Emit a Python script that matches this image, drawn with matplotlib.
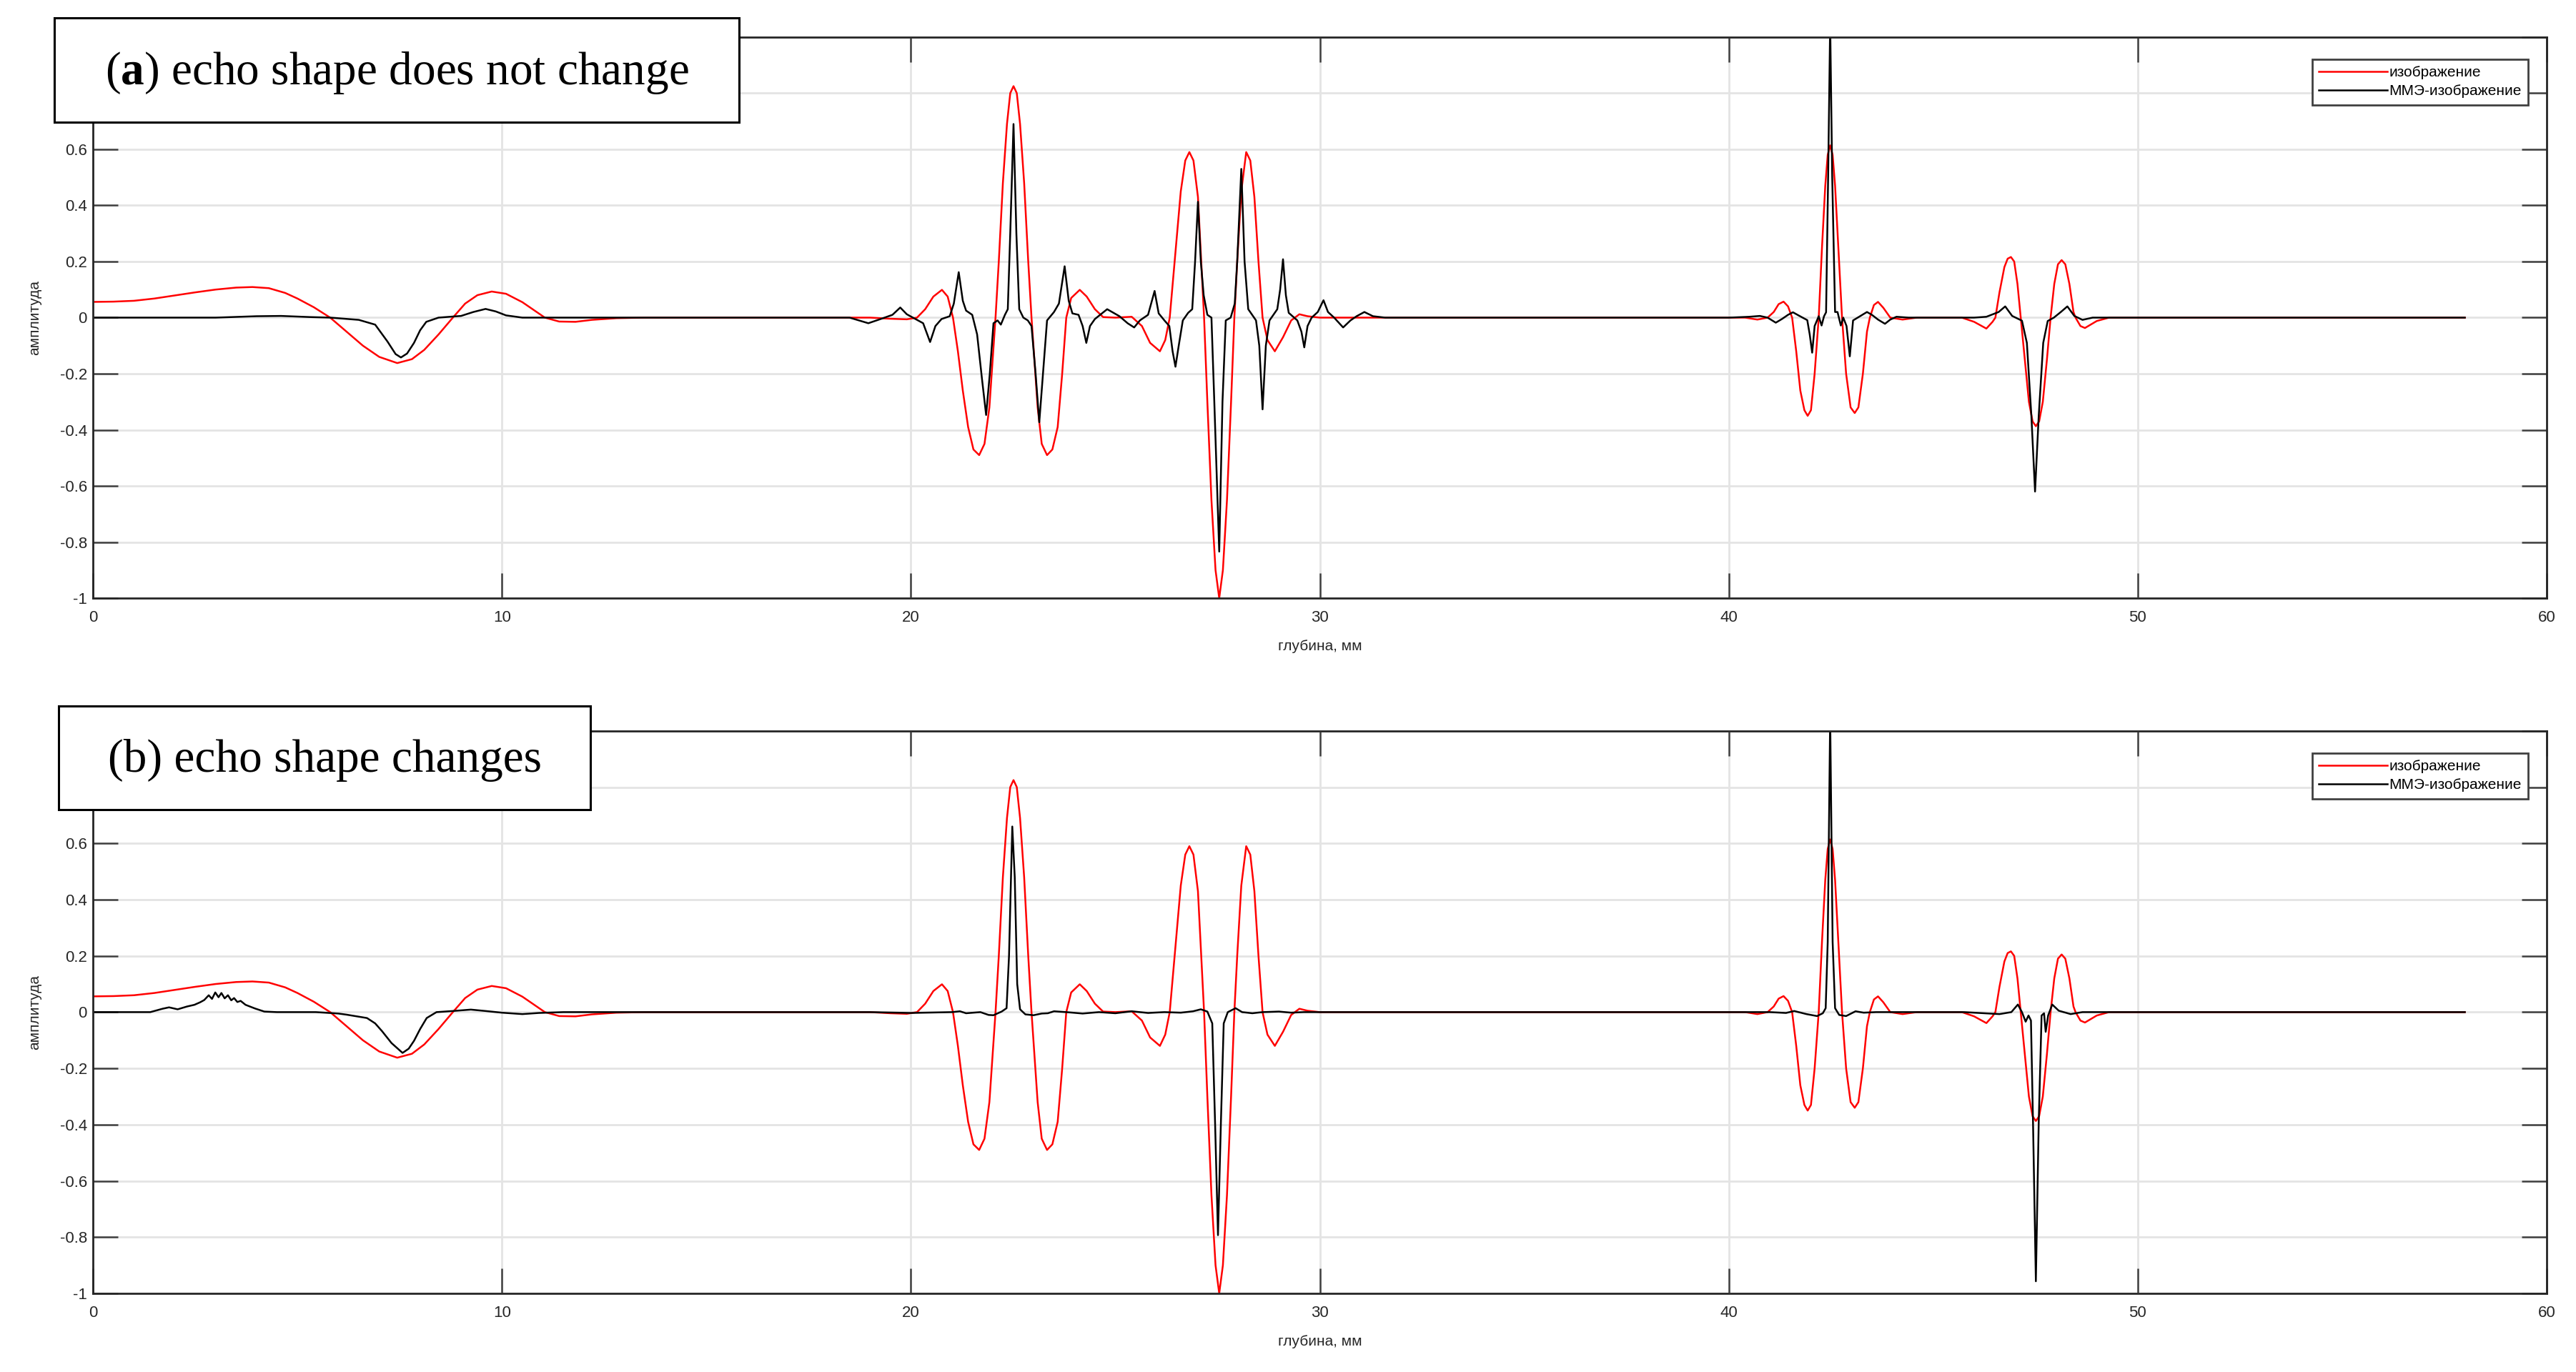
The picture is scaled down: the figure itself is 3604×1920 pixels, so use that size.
import matplotlib
matplotlib.use('Agg')
import matplotlib.pyplot as plt
from matplotlib.patches import Rectangle

# values (depth in mm, amplitude)
red_pts = [
    (0.0, 0.056), (0.5, 0.057), (1.0, 0.06), (1.5, 0.068), (2.0, 0.079), (2.5, 0.09),
    (3.0, 0.1), (3.5, 0.107), (3.9, 0.109), (4.3, 0.105), (4.7, 0.088), (5.0, 0.068),
    (5.4, 0.037), (5.8, 0.0), (6.2, -0.05), (6.6, -0.1), (7.0, -0.14), (7.44, -0.162),
    (7.8, -0.148), (8.1, -0.115), (8.45, -0.06), (8.8, 0.0), (9.1, 0.05), (9.4, 0.08),
    (9.75, 0.093), (10.1, 0.085), (10.5, 0.055), (10.8, 0.025), (11.05, 0.0), (11.4, -0.014),
    (11.8, -0.015), (12.2, -0.008), (12.8, -0.002), (13.5, 0.0), (19.0, 0.0),
    (19.5, -0.004), (19.9, -0.006), (20.15, 0.0), (20.35, 0.03), (20.55, 0.075), (20.76, 0.099),
    (20.9, 0.075), (21.03, 0.0), (21.15, -0.12), (21.27, -0.26), (21.4, -0.39), (21.53, -0.47),
    (21.67, -0.49), (21.8, -0.45), (21.92, -0.32), (22.0, -0.15), (22.07, 0.0), (22.15, 0.2),
    (22.25, 0.48), (22.35, 0.69), (22.43, 0.8), (22.51, 0.825), (22.59, 0.8), (22.67, 0.69),
    (22.77, 0.48), (22.87, 0.2), (22.95, 0.0), (23.02, -0.15), (23.1, -0.32), (23.2, -0.45),
    (23.33, -0.49), (23.46, -0.47), (23.59, -0.39), (23.7, -0.2), (23.8, 0.0), (23.92, 0.07),
    (24.13, 0.099), (24.3, 0.075), (24.5, 0.03), (24.7, 0.002), (25.0, 0.0), (25.4, 0.003),
    (25.65, -0.03), (25.85, -0.09), (26.09, -0.12), (26.22, -0.08), (26.33, 0.0), (26.45, 0.2),
    (26.6, 0.45), (26.71, 0.56), (26.81, 0.59), (26.91, 0.56), (27.02, 0.43), (27.1, 0.2),
    (27.17, 0.0), (27.25, -0.3), (27.35, -0.65), (27.45, -0.9), (27.54, -1.0), (27.63, -0.9),
    (27.73, -0.65), (27.83, -0.3), (27.91, 0.0), (27.98, 0.2), (28.08, 0.45), (28.2, 0.59),
    (28.3, 0.56), (28.4, 0.43), (28.5, 0.2), (28.6, 0.0), (28.72, -0.08), (28.9, -0.12),
    (29.1, -0.07), (29.3, -0.01), (29.5, 0.012), (29.7, 0.005), (30.0, 0.0), (40.4, 0.0),
    (40.7, -0.007), (40.95, 0.0), (41.1, 0.02), (41.22, 0.048), (41.34, 0.057), (41.45, 0.04),
    (41.55, 0.0), (41.65, -0.12), (41.75, -0.26), (41.85, -0.33), (41.93, -0.35), (42.01, -0.33),
    (42.1, -0.2), (42.2, 0.0), (42.28, 0.25), (42.36, 0.47), (42.42, 0.58), (42.48, 0.614),
    (42.54, 0.58), (42.6, 0.47), (42.68, 0.25), (42.77, 0.0), (42.87, -0.2), (42.98, -0.32),
    (43.08, -0.34), (43.17, -0.32), (43.28, -0.2), (43.38, -0.05), (43.45, 0.0), (43.55, 0.045),
    (43.65, 0.056), (43.78, 0.035), (43.95, 0.0), (44.25, -0.007), (44.6, 0.0), (45.7, 0.0),
    (46.0, -0.015), (46.3, -0.039), (46.45, -0.015), (46.52, 0.0), (46.62, 0.09), (46.74, 0.18),
    (46.82, 0.21), (46.9, 0.216), (46.98, 0.2), (47.06, 0.12), (47.14, 0.0), (47.24, -0.15),
    (47.34, -0.3), (47.43, -0.37), (47.51, -0.387), (47.59, -0.37), (47.68, -0.3), (47.78, -0.15),
    (47.87, 0.0), (47.96, 0.12), (48.05, 0.19), (48.14, 0.205), (48.23, 0.19), (48.33, 0.12),
    (48.43, 0.02), (48.48, 0.0), (48.6, -0.03), (48.71, -0.037), (48.85, -0.025), (49.0, -0.012),
    (49.3, 0.0), (58.0, 0.0),
]

black_a_pts = [
    (0.0, 0.0), (3.0, 0.0), (4.0, 0.005), (4.6, 0.006), (5.3, 0.002), (5.8, 0.0), (6.5, -0.008),
    (6.9, -0.025), (7.2, -0.085), (7.4, -0.13), (7.53, -0.142), (7.68, -0.128), (7.85, -0.09),
    (8.0, -0.045), (8.15, -0.015), (8.45, 0.0), (9.0, 0.006), (9.3, 0.02), (9.6, 0.031),
    (9.85, 0.022), (10.1, 0.008), (10.5, 0.0), (18.5, 0.0),
    (18.96, -0.02), (19.3, -0.003), (19.55, 0.01), (19.74, 0.036), (19.9, 0.012), (20.05, 0.0),
    (20.3, -0.02), (20.47, -0.087), (20.6, -0.03), (20.75, -0.005), (20.95, 0.005), (21.05, 0.05),
    (21.17, 0.162), (21.27, 0.06), (21.35, 0.025), (21.5, 0.01), (21.62, -0.06), (21.74, -0.22),
    (21.84, -0.347), (21.93, -0.2), (22.02, -0.02), (22.12, -0.01), (22.2, -0.025), (22.3, 0.01),
    (22.37, 0.03), (22.43, 0.3), (22.51, 0.69), (22.58, 0.3), (22.65, 0.03), (22.75, 0.0),
    (22.86, -0.01), (22.95, -0.03), (23.05, -0.2), (23.14, -0.373), (23.23, -0.2), (23.33, -0.01),
    (23.5, 0.02), (23.62, 0.05), (23.76, 0.183), (23.86, 0.06), (23.95, 0.015), (24.1, 0.01),
    (24.2, -0.03), (24.29, -0.09), (24.38, -0.03), (24.5, -0.005), (24.8, 0.03), (25.1, 0.005),
    (25.3, -0.02), (25.46, -0.035), (25.6, -0.01), (25.8, 0.01), (25.96, 0.095), (26.06, 0.015),
    (26.2, -0.01), (26.32, -0.03), (26.4, -0.12), (26.47, -0.175), (26.55, -0.1), (26.65, -0.01),
    (26.78, 0.017), (26.88, 0.03), (26.95, 0.2), (27.02, 0.413), (27.09, 0.2), (27.16, 0.08),
    (27.25, 0.01), (27.35, 0.0), (27.42, -0.3), (27.54, -0.834), (27.62, -0.3), (27.7, -0.01),
    (27.82, 0.0), (27.92, 0.05), (27.98, 0.2), (28.08, 0.53), (28.16, 0.2), (28.25, 0.03),
    (28.44, -0.01), (28.52, -0.1), (28.6, -0.327), (28.68, -0.1), (28.77, -0.01), (28.96, 0.03),
    (29.03, 0.1), (29.1, 0.208), (29.17, 0.08), (29.24, 0.017), (29.45, -0.01), (29.55, -0.05),
    (29.62, -0.106), (29.7, -0.03), (29.8, 0.0), (29.95, 0.02), (30.09, 0.062), (30.2, 0.02),
    (30.35, 0.0), (30.57, -0.035), (30.75, -0.01), (30.9, 0.005), (31.09, 0.02), (31.3, 0.005),
    (31.6, 0.0), (40.0, 0.0),
    (40.5, 0.003), (40.76, 0.006), (40.95, 0.0), (41.15, -0.018), (41.3, -0.005), (41.45, 0.01),
    (41.57, 0.019), (41.68, 0.01), (41.92, -0.009), (41.98, -0.06), (42.04, -0.125), (42.1, -0.03),
    (42.2, 0.005), (42.27, -0.028), (42.33, 0.005), (42.38, 0.019), (42.43, 0.5), (42.48, 1.05),
    (42.53, 0.5), (42.6, 0.02), (42.66, 0.02), (42.74, -0.028), (42.8, 0.0), (42.88, -0.03),
    (42.96, -0.138), (43.04, -0.01), (43.2, 0.004), (43.38, 0.02), (43.5, 0.01), (43.65, -0.007),
    (43.82, -0.022), (43.95, -0.007), (44.1, 0.003), (44.4, 0.0), (46.0, 0.0), (46.3, 0.003),
    (46.6, 0.02), (46.76, 0.04), (46.93, 0.006), (47.17, -0.011), (47.29, -0.09), (47.4, -0.35),
    (47.49, -0.62), (47.58, -0.35), (47.69, -0.09), (47.8, -0.012), (47.95, 0.0), (48.12, 0.02),
    (48.28, 0.04), (48.45, 0.006), (48.65, -0.008), (48.9, 0.0), (58.0, 0.0),
]

black_b_pts = [
    (0.0, 0.0), (1.4, 0.0), (1.7, 0.012), (1.86, 0.017), (2.07, 0.01), (2.3, 0.02), (2.48, 0.026),
    (2.62, 0.035), (2.72, 0.043), (2.83, 0.06), (2.91, 0.047), (2.99, 0.07), (3.07, 0.053),
    (3.14, 0.068), (3.22, 0.049), (3.3, 0.06), (3.38, 0.042), (3.45, 0.05), (3.53, 0.036),
    (3.61, 0.04), (3.73, 0.026), (3.96, 0.013), (4.19, 0.002), (4.5, 0.0), (5.45, 0.0),
    (6.0, -0.005), (6.2, -0.009), (6.7, -0.021), (6.9, -0.04), (7.07, -0.068), (7.3, -0.11),
    (7.57, -0.145), (7.72, -0.13), (7.85, -0.102), (8.0, -0.06), (8.16, -0.021), (8.4, 0.0),
    (8.8, 0.004), (9.24, 0.009), (9.6, 0.004), (10.0, -0.002), (10.5, -0.007), (10.9, -0.003),
    (11.5, 0.0), (19.0, 0.0),
    (20.0, -0.003), (21.0, 0.0), (21.2, 0.003), (21.35, -0.004), (21.7, 0.0), (21.9, -0.01),
    (22.02, -0.011), (22.22, 0.002), (22.34, 0.014), (22.4, 0.2), (22.48, 0.66), (22.54, 0.48),
    (22.6, 0.1), (22.67, 0.01), (22.8, -0.008), (23.0, -0.011), (23.2, -0.005), (23.35, -0.004),
    (23.5, 0.003), (23.8, 0.0), (24.2, -0.005), (24.6, 0.0), (25.0, -0.004), (25.4, 0.003),
    (25.8, -0.003), (26.2, 0.0), (26.6, -0.002), (26.9, 0.003), (27.09, 0.01), (27.25, 0.002),
    (27.37, -0.04), (27.44, -0.4), (27.51, -0.793), (27.58, -0.4), (27.65, -0.04), (27.75, 0.0),
    (27.94, 0.014), (28.1, 0.0), (28.35, -0.004), (28.6, 0.0), (29.0, 0.002), (29.3, -0.002),
    (29.6, 0.0), (41.0, 0.0),
    (41.4, -0.003), (41.6, 0.004), (41.9, -0.007), (42.16, -0.014), (42.3, -0.004), (42.37, 0.014),
    (42.42, 0.25), (42.48, 1.05), (42.54, 0.25), (42.6, 0.014), (42.7, -0.01), (42.87, -0.014),
    (43.1, 0.003), (43.3, -0.002), (43.6, 0.0), (45.75, 0.0), (46.62, -0.007), (46.91, 0.0),
    (47.07, 0.027), (47.17, 0.0), (47.26, -0.034), (47.33, -0.012), (47.39, -0.03), (47.44, -0.39),
    (47.51, -0.957), (47.58, -0.39), (47.65, -0.012), (47.71, -0.004), (47.75, -0.07),
    (47.81, -0.012), (47.91, 0.027), (48.07, 0.005), (48.36, -0.007), (48.65, 0.0), (58.0, 0.0),
]

x_ticks = [0, 10, 20, 30, 40, 50, 60]
y_ticks = [-1, -0.8, -0.6, -0.4, -0.2, 0, 0.2, 0.4, 0.6, 0.8, 1]
y_tick_labels = ['-1', '-0.8', '-0.6', '-0.4', '-0.2', '0', '0.2', '0.4', '0.6', '0.8', '1']
legend_labels = ['изображение', 'ММЭ-изображение']
x_label = 'глубина, мм'
y_label = 'амплитуда'
panel_titles = [r'($\mathbf{a}$) echo shape does not change', '(b) echo shape changes']

plt.rcParams['font.family'] = ['Liberation Sans', 'DejaVu Sans']
plt.rcParams['mathtext.fontset'] = 'custom'
plt.rcParams['mathtext.rm'] = 'Liberation Serif'
plt.rcParams['mathtext.bf'] = 'Liberation Serif:bold'

fig = plt.figure(figsize=(18.02, 9.6), dpi=200)
ax_a = fig.add_axes([0.0361, 0.564, 0.9525, 0.409])
ax_b = fig.add_axes([0.0361, 0.0573, 0.9525, 0.41])

rx = [p[0] for p in red_pts]
ry = [p[1] for p in red_pts]

for ax, blk in [(ax_a, black_a_pts), (ax_b, black_b_pts)]:
    bx = [p[0] for p in blk]
    by = [p[1] for p in blk]
    ax.plot(rx, ry, color='#ff0000', lw=0.9, label=legend_labels[0])
    ax.plot(bx, by, color='black', lw=0.9, label=legend_labels[1])
    ax.set_xlim(0, 60)
    ax.set_ylim(-1, 1)
    ax.set_xticks(x_ticks)
    ax.set_yticks(y_ticks)
    ax.set_yticklabels(y_tick_labels)
    ax.grid(True, color='#e4e4e4', lw=1.0)
    ax.set_axisbelow(True)
    ax.tick_params(direction='in', length=12.5, width=0.9, top=True, right=True,
                   color='#404040', labelcolor='#262626', labelsize=8)
    ax.tick_params(axis='x', pad=6)
    ax.tick_params(axis='y', pad=3)
    for s in ax.spines.values():
        s.set_color('#262626')
        s.set_linewidth(1.0)
    ax.set_xlabel(x_label, fontsize=7.5, color='#262626')
    ax.set_ylabel(y_label, fontsize=7.5, color='#262626')
    ax.xaxis.set_label_coords(0.5, -0.074)
    ax.yaxis.set_label_coords(-0.021, 0.5)
    leg = ax.legend(loc='upper right', bbox_to_anchor=(0.9924, 0.9606), borderaxespad=0,
                    fontsize=7.5, handlelength=4.6, handletextpad=0.1, borderpad=0.45,
                    labelspacing=0.35, fancybox=False, framealpha=1, edgecolor='#404040')
    leg.get_frame().set_linewidth(1.0)

# title boxes drawn over the upper-left corner of each panel
boxes = [(0.0211, 0.9109, 0.2658, 0.076, 0.154, 0.947),
         (0.0228, 0.4099, 0.2064, 0.0755, 0.126, 0.446)]
for (x0, y0, w, h, tx, ty), title in zip(boxes, panel_titles):
    fig.add_artist(Rectangle((x0, y0), w, h, transform=fig.transFigure,
                             facecolor='white', edgecolor='black', lw=1.1, zorder=5))
    fig.text(tx, ty, title, family='Liberation Serif', fontsize=23.5,
             ha='center', va='center', zorder=6)

fig.savefig('out.png', dpi=200)
